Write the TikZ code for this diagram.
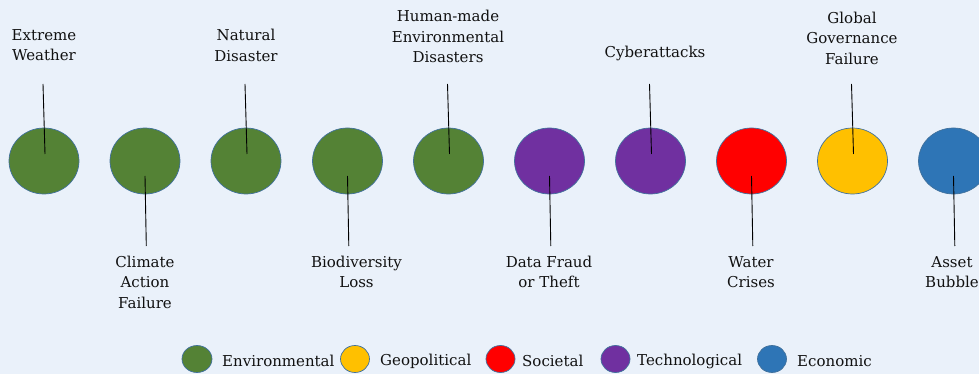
\documentclass[tikz,border=0pt]{standalone}
\usepackage{fontspec}
\setmainfont{DejaVu Serif}
\begin{document}
\begin{tikzpicture}[x=1pt,y=-1pt,
  disc/.style={draw=edgeblue,line width=0.7pt},
  lbl/.style={align=center,inner sep=0pt,text=txt,font=\fontsize{15}{20.5}\selectfont},
  leg/.style={anchor=west,inner sep=0pt,text=txt,font=\fontsize{15}{20.5}\selectfont},
  lead/.style={draw=black,line width=0.9pt}]
\definecolor{bg}{HTML}{EAF1FA}
\definecolor{edgeblue}{HTML}{41719C}
\definecolor{txt}{HTML}{111111}
\definecolor{envgreen}{HTML}{548235}
\definecolor{geoyellow}{HTML}{FFC000}
\definecolor{socred}{HTML}{FF0000}
\definecolor{techpurple}{HTML}{7030A0}
\definecolor{ecoblue}{HTML}{2E75B6}
\fill[bg] (0,0) rectangle (979,374);
\useasboundingbox (0,0) rectangle (979,374);

% risk discs
\foreach \n/\x/\c in {a/44/envgreen,b/145/envgreen,c/246/envgreen,d/347.5/envgreen,e/448.5/envgreen,
                      f/549.5/techpurple,g/650.5/techpurple,h/751.5/socred,i/852.5/geoyellow,j/953.5/ecoblue}{
  \draw[disc,fill=\c] (\x,161) ellipse [x radius=35, y radius=33];
  \coordinate (\n) at (\x,161);
}

% labels above
\node[lbl] (la) at (44,45.3) {Extreme\\Weather};
\node[lbl] (lc) at (246,45.3) {Natural\\Disaster};
\node[lbl] (le) at (448,36.5) {Human-made\\Environmental\\Disasters};
\node[lbl] (lg) at (655,53) {Cyberattacks};
\node[lbl] (li) at (852,38) {Global\\Governance\\Failure};

% labels below
\node[lbl] (lb) at (145,282) {Climate\\Action\\Failure};
\node[lbl] (ld) at (356.5,272) {Biodiversity\\Loss};
\node[lbl] (lf) at (549,272) {Data Fraud\\or Theft};
\node[lbl] (lh) at (751,272) {Water\\Crises};
\node[lbl] (lj) at (952,272) {Asset\\Bubble};

% leader lines
\foreach \n/\x in {a/44,c/246,e/448.5,g/650.5,i/852.5}{
  \coordinate (t\n) at (\x-1,84);
  \coordinate (s\n) at (\x+1,154);
  \draw[lead] (t\n) -- (s\n);
}
\foreach \n/\x in {b/145,d/347.5,f/549.5,h/751.5,j/953.5}{
  \coordinate (t\n) at (\x,176);
  \coordinate (s\n) at (\x+1.3,246);
  \draw[lead] (t\n) -- (s\n);
}

% legend
\draw[disc,fill=envgreen] (197,359) ellipse [x radius=15, y radius=13.5];
\node[leg] (k1) at (222,361) {Environmental};
\draw[disc,fill=geoyellow] (355,359) ellipse [x radius=14.5, y radius=13.5];
\node[leg] (k2) at (380,361) {Geopolitical};
\draw[disc,fill=socred] (500.5,359) ellipse [x radius=14.5, y radius=13.5];
\node[leg] (k3) at (522,361) {Societal};
\draw[disc,fill=techpurple] (615.5,359) ellipse [x radius=14.5, y radius=13.5];
\node[leg] (k4) at (637,361) {Technological};
\draw[disc,fill=ecoblue] (772,359) ellipse [x radius=14.5, y radius=13.5];
\node[leg] (k5) at (797,361) {Economic};
\end{tikzpicture}
\end{document}
